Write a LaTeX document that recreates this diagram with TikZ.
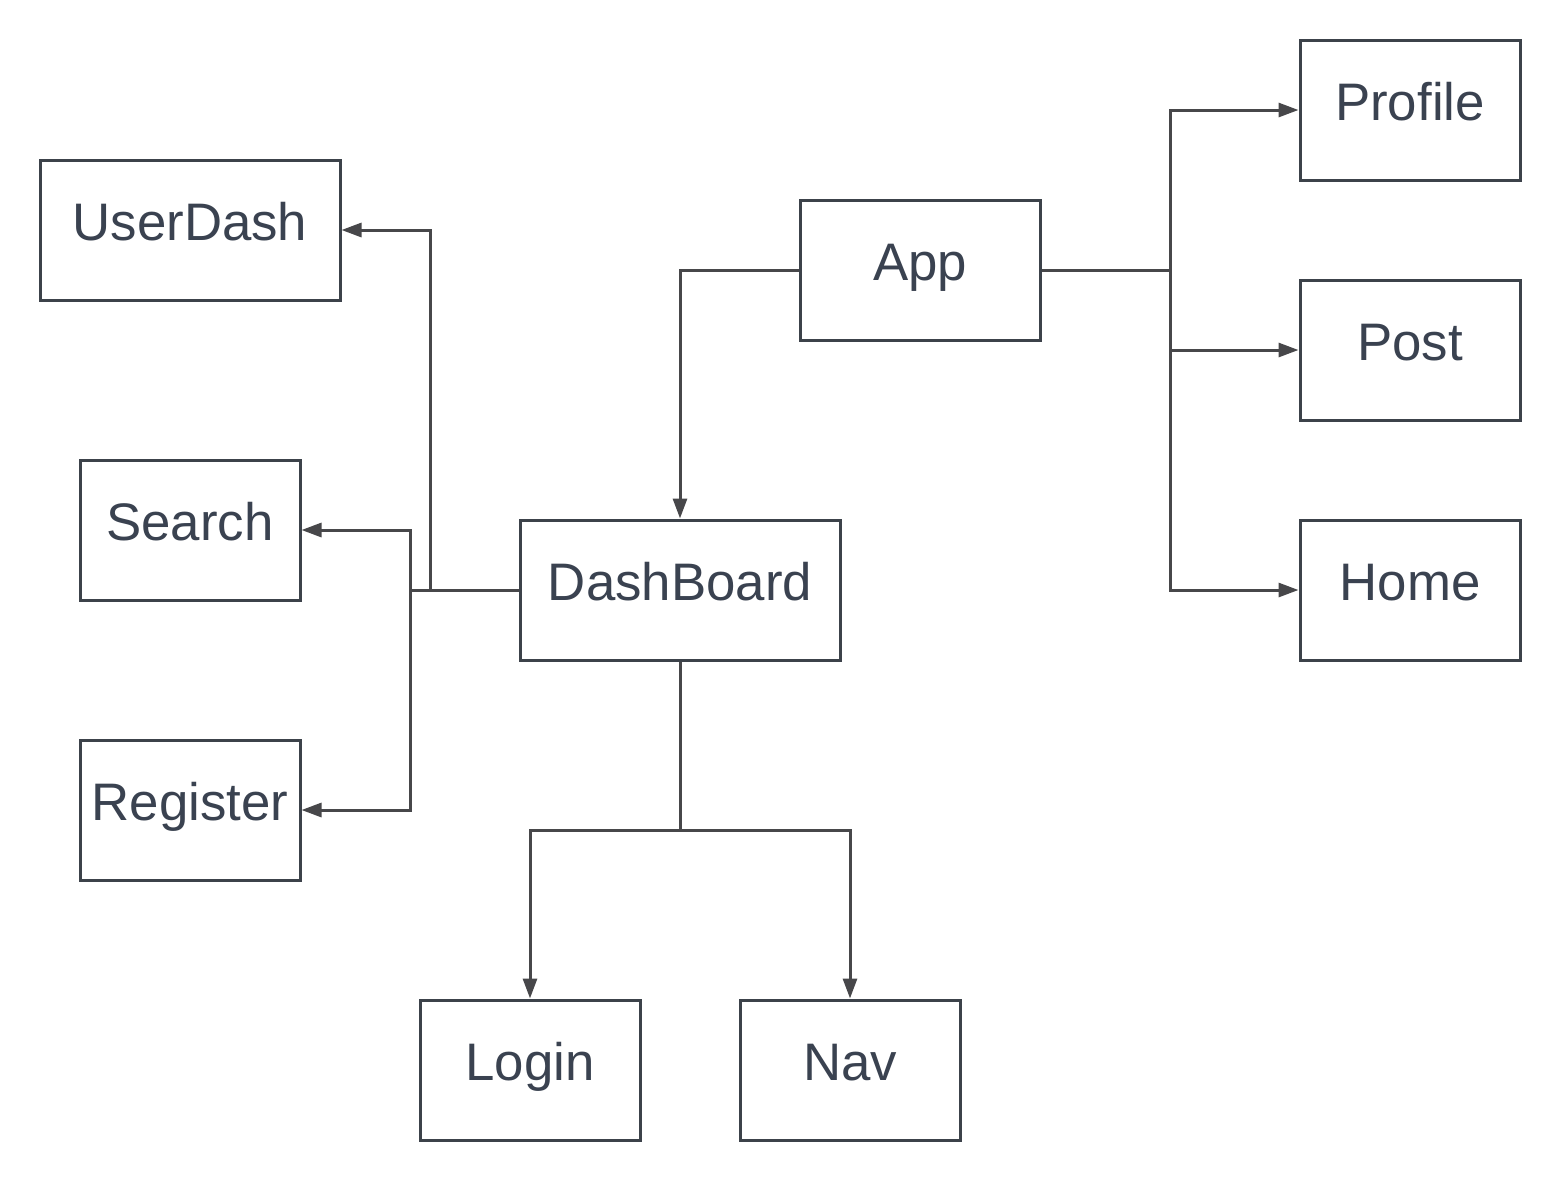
\documentclass[tikz,border=0pt]{standalone}
\usepackage{fontspec}
\setmainfont{Liberation Sans}
\usetikzlibrary{arrows.meta,shadows}
\definecolor{boxc}{HTML}{3C424A}
\definecolor{linec}{HTML}{47474A}
\definecolor{txtc}{HTML}{3A4250}
\begin{document}
\begin{tikzpicture}[x=0.5pt,y=-0.5pt,
  box/.style={draw=boxc, line width=1.5pt, fill=white, rectangle,
    font=\fontsize{26.4pt}{30pt}\selectfont, text=txtc,
    text height=19pt, text depth=9pt, inner sep=0pt,
    minimum height=70pt,
    drop shadow={opacity=0.12, shadow xshift=0.8pt, shadow yshift=-1pt}},
  conn/.style={draw=linec, line width=1.5pt},
  arr/.style={conn, -{Triangle[length=10pt,width=7pt]}}]
\useasboundingbox (0,0) rectangle (1560,1180);

\node[box, minimum width=150pt] (userdash) at (190,230) {UserDash};
\node[box, minimum width=110pt] (search) at (190,530) {Search};
\node[box, minimum width=110pt] (register) at (190,810) {Register};
\node[box, minimum width=120pt] (app) at (920,270) {App};
\node[box, minimum width=160pt] (dash) at (680,590) {DashBoard};
\node[box, minimum width=110pt] (profile) at (1410,110) {Profile};
\node[box, minimum width=110pt] (post) at (1410,350) {Post};
\node[box, minimum width=110pt] (home) at (1410,590) {Home};
\node[box, minimum width=110pt] (login) at (530,1070) {Login};
\node[box, minimum width=110pt] (nav) at (850,1070) {Nav};

\coordinate (aj) at (1170,270);
\draw[conn] (app.east) -- (aj);
\draw[arr] (aj) |- (profile.west);
\draw[arr] (aj) |- (post.west);
\draw[arr] (aj) |- (home.west);

\draw[arr] (app.west) -| (dash.north);

\coordinate (dl) at (410,590);
\coordinate (du) at (430,590);
\draw[conn] (dash.west) -- (dl);
\draw[arr] (du) |- (userdash.east);
\draw[arr] (dl) |- (search.east);
\draw[arr] (dl) |- (register.east);

\coordinate (db) at (680,830);
\draw[conn] (dash.south) -- (db);
\draw[arr] (db) -| (login.north);
\draw[arr] (db) -| (nav.north);
\end{tikzpicture}
\end{document}
